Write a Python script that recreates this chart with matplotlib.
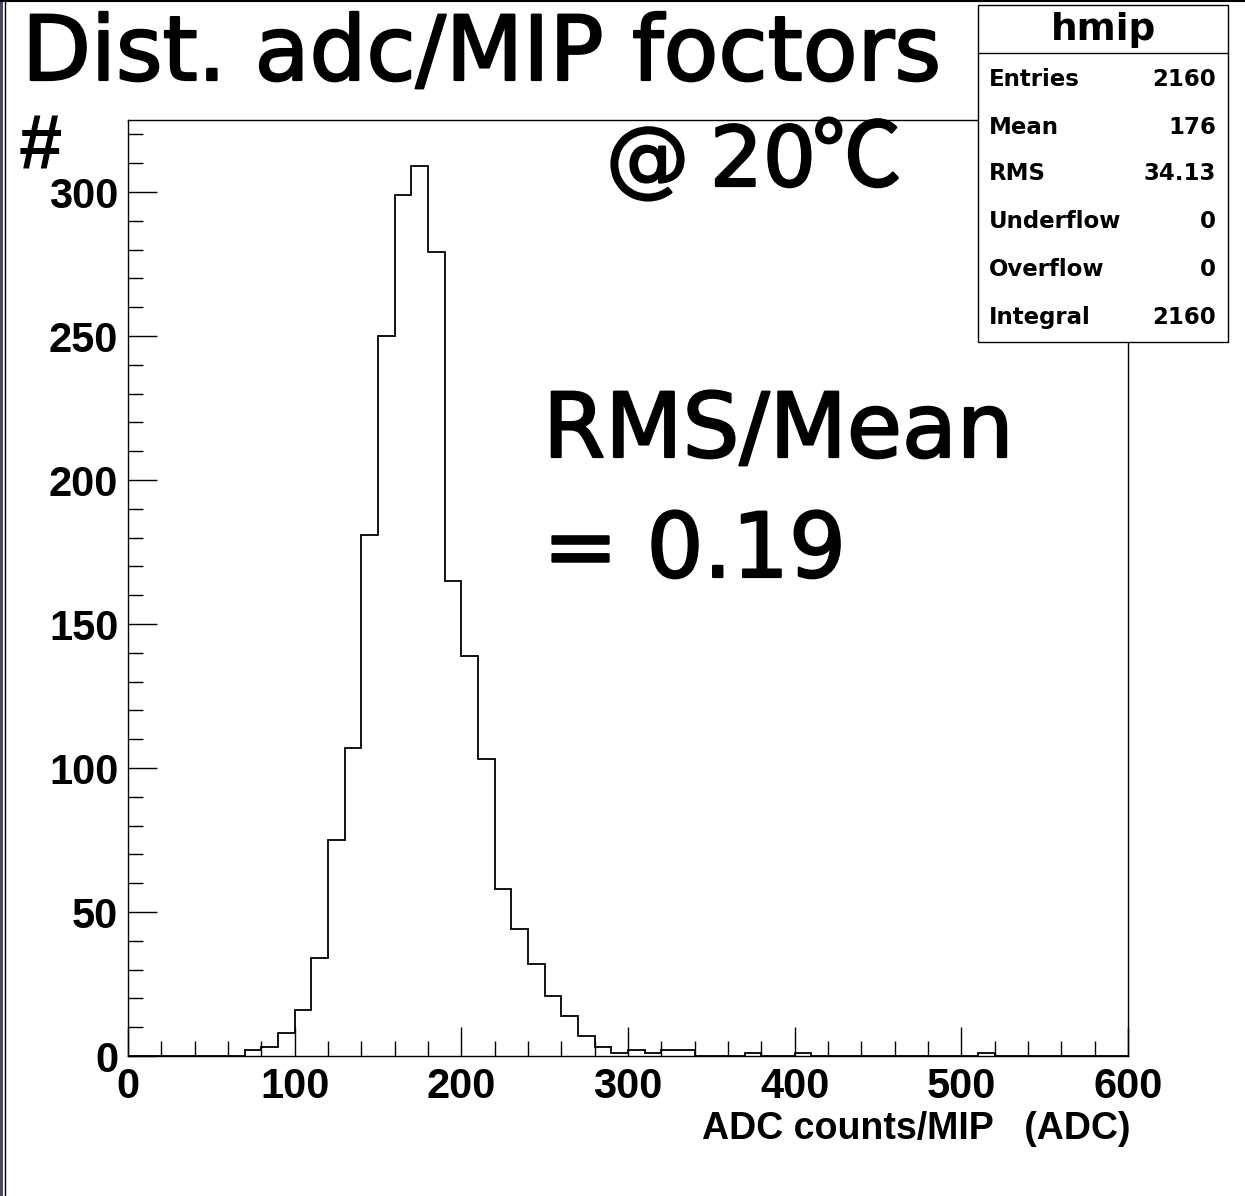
import numpy as np
import matplotlib
matplotlib.use("Agg")
import matplotlib.pyplot as plt
import matplotlib.patheffects as pe
from matplotlib.patches import Rectangle
from matplotlib.lines import Line2D
from matplotlib.ticker import MultipleLocator

# ---- data ----
bin_edges = np.arange(0, 610, 10)
counts = [0, 0, 0, 0, 0, 0, 0, 2, 3, 8,
          16, 34, 75, 107, 181, 250, 299, 309, 279, 165,
          139, 103, 58, 44, 32, 21, 14, 7, 3, 1,
          2, 1, 2, 2, 0, 0, 0, 1, 0, 0,
          1, 0, 0, 0, 0, 0, 0, 0, 0, 0,
          0, 1, 0, 0, 0, 0, 0, 0, 0, 0]
x_ticks = [0, 100, 200, 300, 400, 500, 600]
y_ticks = [0, 50, 100, 150, 200, 250, 300]
stat_names = ["Entries", "Mean", "RMS", "Underflow", "Overflow", "Integral"]
stat_values = ["2160", "176", "34.13", "0", "0", "2160"]
hist_name = "hmip"
title_text = "Dist. adc/MIP foctors"
temp_at = "@"
temp_value = "20"
temp_unit = "\u2103"
ratio_lines = ["RMS/Mean", "= 0.19"]
x_label = "ADC counts/MIP   (ADC)"
y_label = "#"

W, H = 1245, 1196
fig = plt.figure(figsize=(W / 100, H / 100), dpi=100)
fig.patch.set_facecolor("white")

def fx(px):
    return px / W

def fy(py):
    return 1 - py / H

ax = fig.add_axes([fx(128), fy(1056), 1000 / W, (1056 - 120) / H])
ax.stairs(counts, bin_edges, color="black", linewidth=1.3)
ax.set_xlim(0, 600)
ax.set_ylim(0, (1056 - 120) / 2.88)
ax.set_xticks(x_ticks)
ax.set_yticks(y_ticks)
ax.xaxis.set_minor_locator(MultipleLocator(20))
ax.yaxis.set_minor_locator(MultipleLocator(10))
tick_font = dict(family="Liberation Sans", weight="bold", size=30)
ax.set_xticklabels([str(v) for v in x_ticks], fontdict=tick_font)
ax.set_yticklabels([str(v) for v in y_ticks], fontdict=tick_font)
ax.tick_params(which="both", direction="in", top=False, right=False, width=1.0, color="black")
ax.tick_params(which="major", length=21)
ax.tick_params(which="minor", length=10.5)
ax.tick_params(axis="x", which="major", pad=8)
ax.tick_params(axis="y", which="major", pad=7)
for sp in ax.spines.values():
    sp.set_linewidth(1.0)
    sp.set_color("black")

# axis titles
fig.text(fx(1130), fy(1129), x_label, ha="right", va="center",
         family="Liberation Sans", weight="bold", size=27)
fig.text(fx(40), fy(149), y_label, ha="center", va="center",
         family="Liberation Sans", weight="bold", size=56)

# big texts
thick = [pe.withStroke(linewidth=1.6, foreground="black")]
big_font = dict(family=["DejaVu Sans", "Noto Sans CJK JP"], size=64.5, path_effects=thick)
fig.text(fx(22), fy(80), title_text, ha="left", va="baseline", **big_font)
fig.text(fx(606), fy(186), temp_at, ha="left", va="baseline",
         family=["DejaVu Sans"], size=60, path_effects=thick)
fig.text(fx(816), fy(186), temp_value, ha="right", va="baseline",
         family=["DejaVu Sans"], size=60, path_effects=thick)
fig.text(fx(812), fy(186), temp_unit, ha="left", va="baseline",
         family=["Noto Sans CJK JP", "DejaVu Sans"], size=64.5, path_effects=thick)
fig.text(fx(543), fy(457), ratio_lines[0], ha="left", va="baseline", **big_font)
fig.text(fx(543), fy(577), ratio_lines[1], ha="left", va="baseline", **big_font)

# stats box
bx0, by0, bx1, by1 = 978, 5, 1228, 342
fig.add_artist(Rectangle((fx(bx0), fy(by1)), (bx1 - bx0) / W, (by1 - by0) / H,
                         transform=fig.transFigure, facecolor="white",
                         edgecolor="black", linewidth=1.0, zorder=5))
fig.add_artist(Line2D([fx(bx0), fx(bx1)], [fy(53), fy(53)], transform=fig.transFigure,
                      color="black", linewidth=1.0, zorder=6))
fig.text(fx((bx0 + bx1) / 2), fy(30), hist_name, ha="center", va="center",
         family="DejaVu Sans", weight="bold", size=27, zorder=7)
row_y = [80, 128, 174, 222, 270, 318]
for name, val, ry in zip(stat_names, stat_values, row_y):
    fig.text(fx(989), fy(ry), name, ha="left", va="center",
             family="DejaVu Sans", weight="bold", size=16.5, zorder=7)
    fig.text(fx(1216), fy(ry), val, ha="right", va="center",
             family="DejaVu Sans", weight="bold", size=16.5, zorder=7)

# window edges
fig.add_artist(Rectangle((0, 0), 3 / W, 1, transform=fig.transFigure,
                         facecolor="#474b5c", edgecolor="none", zorder=8))
fig.add_artist(Line2D([4.5 / W, 4.5 / W], [0, 1], transform=fig.transFigure,
                      color="black", linewidth=1.0, zorder=8))
fig.add_artist(Line2D([0, 1], [fy(1), fy(1)], transform=fig.transFigure,
                      color="black", linewidth=1.5, zorder=8))

fig.savefig("out.png", dpi=100, facecolor="white")
